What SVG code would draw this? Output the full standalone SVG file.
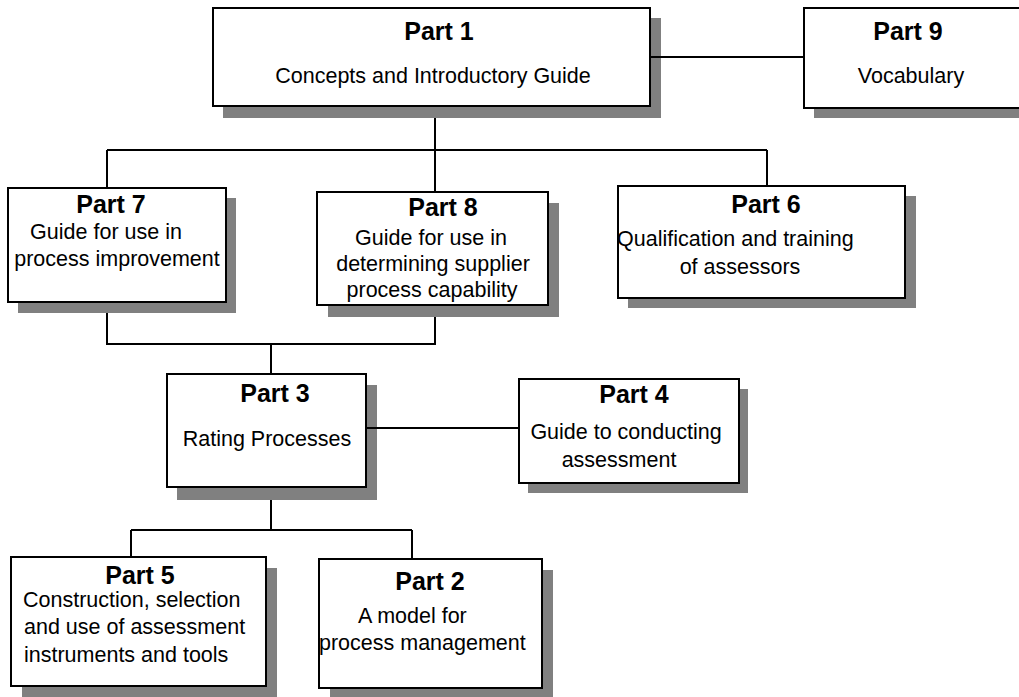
<svg xmlns="http://www.w3.org/2000/svg" width="1019" height="697" viewBox="0 0 1019 697">
<style>
.bg{fill:#ffffff}
.sh{fill:#808080}
.box{fill:#ffffff;stroke:#000000;stroke-width:2}
.t{font-family:"Liberation Sans",Arial,sans-serif;font-size:25px;font-weight:bold;fill:#000000}
.d{font-family:"Liberation Sans",Arial,sans-serif;font-size:21.5px;fill:#000000}
.m{text-anchor:middle}
.c{fill:none;stroke:#000000;stroke-width:2}
</style>
<rect class="bg" x="0" y="0" width="1019" height="697"/>
<g id="part1">
<rect class="sh" x="223" y="18" width="438" height="100"/>
<rect class="box" x="213" y="8" width="437" height="98"/>
<text class="t m" x="439" y="40">Part 1</text>
<text class="d m" x="433" y="83">Concepts and Introductory Guide</text>
</g>
<g id="part9">
<rect class="sh" x="814" y="18" width="220" height="100"/>
<rect class="box" x="804" y="8" width="225" height="100"/>
<text class="t m" x="908" y="40">Part 9</text>
<text class="d m" x="911" y="83">Vocabulary</text>
</g>
<g id="part7">
<rect class="sh" x="18" y="198" width="218" height="115"/>
<rect class="box" x="8" y="188" width="218" height="114"/>
<text class="t m" x="111" y="213">Part 7</text>
<text class="d m" x="106" y="239">Guide for use in</text>
<text class="d m" x="117" y="266">process improvement</text>
</g>
<g id="part8">
<rect class="sh" x="328" y="203" width="231" height="114"/>
<rect class="box" x="317" y="192" width="231" height="113"/>
<text class="t m" x="443" y="216">Part 8</text>
<text class="d m" x="431" y="245">Guide for use in</text>
<text class="d m" x="433" y="271">determining supplier</text>
<text class="d m" x="432" y="297">process capability</text>
</g>
<g id="part6">
<rect class="sh" x="628" y="196" width="288" height="112"/>
<rect class="box" x="618" y="186" width="287" height="112"/>
<text class="d" x="617" y="246">Qualification and training</text>
<text class="d m" x="740" y="274">of assessors</text>
<text class="t m" x="766" y="213">Part 6</text>
<line x1="618" y1="186" x2="618" y2="298" stroke="#000" stroke-width="2"/>
</g>
<g id="part3">
<rect class="sh" x="177" y="385" width="200" height="115"/>
<rect class="box" x="167" y="374" width="199" height="113"/>
<text class="t m" x="275" y="402">Part 3</text>
<text class="d m" x="267" y="446">Rating Processes</text>
</g>
<g id="part4">
<rect class="sh" x="528" y="389" width="220" height="104"/>
<rect class="box" x="519" y="379" width="220" height="104"/>
<text class="t m" x="634" y="403">Part 4</text>
<text class="d m" x="626" y="439">Guide to conducting</text>
<text class="d m" x="619" y="467">assessment</text>
</g>
<g id="part5">
<rect class="sh" x="22" y="568" width="255" height="140"/>
<rect class="box" x="11" y="557" width="255" height="129"/>
<text class="t m" x="140" y="584">Part 5</text>
<text class="d" x="23" y="607">Construction, selection</text>
<text class="d" x="24" y="634">and use of assessment</text>
<text class="d" x="24" y="662">instruments and tools</text>
</g>
<g id="part2">
<rect class="sh" x="330" y="570" width="223" height="140"/>
<rect class="box" x="319" y="559" width="223" height="129"/>
<text class="t m" x="430" y="590">Part 2</text>
<text class="d" x="358" y="623">A model for</text>
<text class="d" x="319" y="650">process management</text>
<line x1="319" y1="559" x2="319" y2="688" stroke="#000" stroke-width="2"/>
</g>
<g id="connectors">
<path class="c" d="M435,118 V150 M107,150 H767 M107,150 V188 M435,150 V192 M767,150 V186"/>
<path class="c" d="M650,57 H804"/>
<path class="c" d="M107,313 V344 H435 V317 M271,344 V374"/>
<path class="c" d="M366,428 H519"/>
<path class="c" d="M271,500 V530 M131,530 H412 M131,530 V557 M412,530 V559"/>
</g>
</svg>
